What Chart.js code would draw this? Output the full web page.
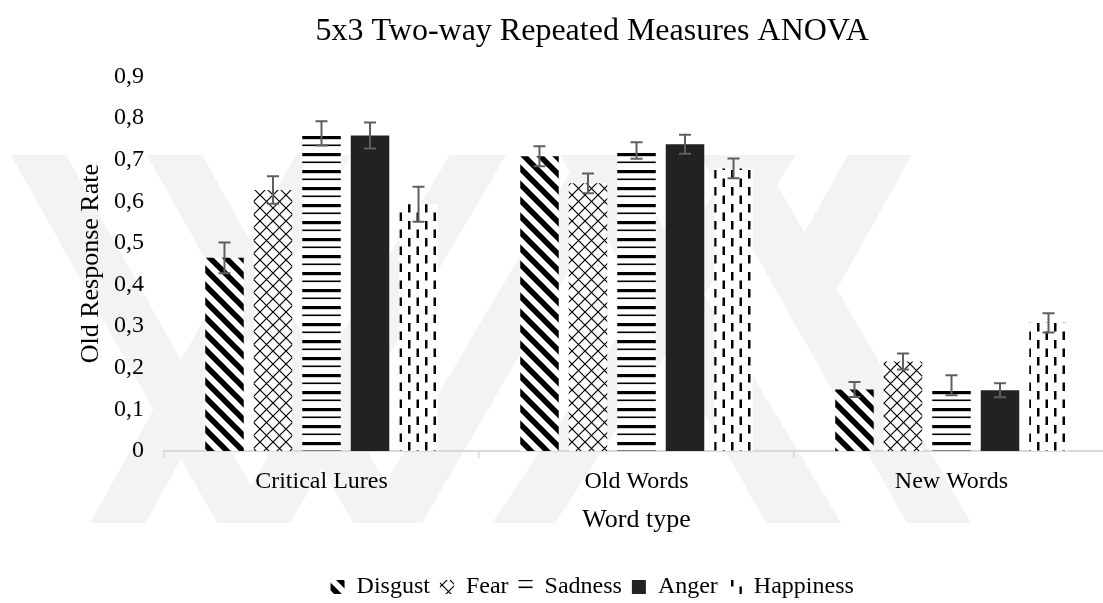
<!DOCTYPE html>
<html>
<head>
<meta charset="utf-8">
<script src="https://cdn.jsdelivr.net/npm/chart.js@4.4.1/dist/chart.umd.min.js"></script>
<style>
  html, body { margin: 0; padding: 0; background: #fff; overflow: hidden; }
  #wrap { width: 1176px; height: 630px; }
</style>
</head>
<body>
<div id="wrap"><canvas id="anovaChart" width="1176" height="630"></canvas></div>
<script>
const wordTypes = ["Critical Lures", "Old Words", "New Words"];
const emotions = ["Disgust", "Fear", "Sadness", "Anger", "Happiness"];

// mean old response rate per word type
const disgust = [0.464, 0.708, 0.148];
const fear = [0.627, 0.643, 0.215];
const sadness = [0.763, 0.722, 0.158];
const anger = [0.758, 0.737, 0.146];
const happiness = [0.593, 0.679, 0.308];

// standard errors
const disgustErr = [0.037, 0.024, 0.018];
const fearErr = [0.033, 0.024, 0.019];
const sadnessErr = [0.029, 0.02, 0.024];
const angerErr = [0.031, 0.023, 0.017];
const happinessErr = [0.042, 0.024, 0.023];

const yTicks = [0, 0.1, 0.2, 0.3, 0.4, 0.5, 0.6, 0.7, 0.8, 0.9];
const yTickLabels = ["0", "0,1", "0,2", "0,3", "0,4", "0,5", "0,6", "0,7", "0,8", "0,9"];

const serif = "'Liberation Serif', 'Times New Roman', serif";
Chart.defaults.font.family = serif;
Chart.defaults.color = "#000";

function makePattern(kind) {
  const c = document.createElement("canvas");
  const ctx = c.getContext("2d");
  if (kind === "diagonal") {
    c.width = 16; c.height = 16;
    ctx.fillStyle = "#fff";
    ctx.fillRect(0, 0, 16, 16);
    ctx.strokeStyle = "#000";
    ctx.lineWidth = 5.5;
    [-16, 0, 16].forEach((o) => {
      ctx.beginPath();
      ctx.moveTo(o - 2, -2);
      ctx.lineTo(o + 18, 18);
      ctx.stroke();
    });
  } else if (kind === "diamond") {
    c.width = 13; c.height = 13;
    ctx.fillStyle = "#fff";
    ctx.fillRect(0, 0, 13, 13);
    ctx.strokeStyle = "#000";
    ctx.lineWidth = 1.2;
    ctx.beginPath();
    ctx.moveTo(-1, -1); ctx.lineTo(14, 14);
    ctx.moveTo(14, -1); ctx.lineTo(-1, 14);
    ctx.stroke();
  } else if (kind === "hlines") {
    c.width = 8; c.height = 17;
    ctx.fillStyle = "#fff";
    ctx.fillRect(0, 0, 8, 17);
    ctx.fillStyle = "#000";
    ctx.fillRect(0, 0, 8, 3.2);
    ctx.fillRect(0, 8.5, 8, 1.6);
  } else if (kind === "dashes") {
    c.width = 17; c.height = 17;
    ctx.fillStyle = "#fff";
    ctx.fillRect(0, 0, 17, 17);
    ctx.fillStyle = "#000";
    ctx.fillRect(0, 0, 2.5, 8.5);
    ctx.fillRect(8.5, 8.5, 2.5, 8.5);
  }
  return c.getContext("2d").createPattern(c, "repeat");
}

// faint watermark bands behind the chart
const watermarkBands = [
  [[11, 155], [66, 155], [272, 523], [217, 523]],
  [[147, 155], [202, 155], [408, 523], [353, 523]],
  [[296, 155], [351, 155], [145, 523], [90, 523]],
  [[450, 155], [506, 155], [290, 523], [228, 523]],
  [[580, 155], [636, 155], [422, 523], [362, 523]],
  [[740, 155], [796, 155], [555, 523], [492, 523]],
  [[560, 155], [620, 155], [841, 523], [766, 523]],
  [[700, 155], [760, 155], [971, 523], [907, 523]],
  [[848, 155], [912, 155], [838, 287], [774, 287]],
];

const watermarkPlugin = {
  id: "watermark",
  beforeDraw(chart) {
    const { ctx } = chart;
    ctx.save();
    ctx.fillStyle = "#fff";
    ctx.fillRect(0, 0, chart.width, chart.height);
    ctx.fillStyle = "#f3f3f3";
    watermarkBands.forEach((pts) => {
      ctx.beginPath();
      pts.forEach(([x, y], i) => (i ? ctx.lineTo(x, y) : ctx.moveTo(x, y)));
      ctx.closePath();
      ctx.fill();
    });
    ctx.restore();
  },
};

const errorBarPlugin = {
  id: "errorBars",
  afterDatasetsDraw(chart) {
    const { ctx } = chart;
    const yScale = chart.scales.y;
    ctx.save();
    ctx.strokeStyle = "#5f5f5f";
    ctx.lineWidth = 2;
    chart.data.datasets.forEach((ds, i) => {
      const meta = chart.getDatasetMeta(i);
      meta.data.forEach((bar, j) => {
        const v = ds.data[j];
        const e = ds.errors[j];
        const top = yScale.getPixelForValue(v + e);
        const bottom = yScale.getPixelForValue(v - e);
        const x = bar.x;
        ctx.beginPath();
        ctx.moveTo(x, top); ctx.lineTo(x, bottom);
        ctx.moveTo(x - 6, top); ctx.lineTo(x + 6, top);
        ctx.moveTo(x - 6, bottom); ctx.lineTo(x + 6, bottom);
        ctx.stroke();
      });
    });
    ctx.restore();
  },
};

const seriesData = [disgust, fear, sadness, anger, happiness];
const seriesErr = [disgustErr, fearErr, sadnessErr, angerErr, happinessErr];
const fills = [
  makePattern("diagonal"),
  makePattern("diamond"),
  makePattern("hlines"),
  "#222222",
  makePattern("dashes"),
];

const datasets = emotions.map((label, i) => ({
  label,
  data: seriesData[i],
  errors: seriesErr[i],
  backgroundColor: fills[i],
  borderWidth: 0,
  categoryPercentage: 0.77,
  barPercentage: 0.794,
}));

const config = {
  type: "bar",
  data: { labels: wordTypes, datasets },
  options: {
    responsive: false,
    animation: false,
    devicePixelRatio: 1,
    layout: { padding: { left: 75.4, right: 67, top: 0, bottom: 21 } },
    plugins: {
      title: {
        display: true,
        text: "5x3 Two-way Repeated Measures ANOVA",
        font: { size: 32, weight: "normal", family: serif },
        color: "#000",
        padding: { top: 12, bottom: 26 },
      },
      legend: {
        position: "bottom",
        labels: {
          boxWidth: 14,
          boxHeight: 14,
          padding: 10,
          color: "#000",
          font: { size: 24, family: serif },
        },
      },
      tooltip: { enabled: false },
    },
    scales: {
      x: {
        grid: {
          display: true,
          drawOnChartArea: false,
          drawTicks: true,
          tickLength: 7,
          color: "#d9d9d9",
          lineWidth: 1.5,
        },
        border: { display: true, color: "#d9d9d9", width: 2 },
        ticks: { padding: 9, color: "#000", font: { size: 24, family: serif } },
        title: {
          display: true,
          text: "Word type",
          color: "#000",
          font: { size: 26, family: serif },
          padding: { top: 0, bottom: 29 },
        },
      },
      y: {
        min: 0,
        max: 0.9,
        afterBuildTicks: (axis) => {
          axis.ticks = yTicks.map((value) => ({ value }));
        },
        afterFit: (axis) => {
          axis.width = 88.6;
        },
        grid: { display: false, drawTicks: false },
        border: { display: false },
        ticks: {
          padding: 20,
          color: "#000",
          font: { size: 24, family: serif },
          callback: (value) => yTickLabels[yTicks.findIndex((t) => Math.abs(t - value) < 1e-6)],
        },
        title: {
          display: true,
          text: "Old Response Rate",
          color: "#000",
          font: { size: 26, family: serif },
          padding: { top: 0, bottom: 0 },
        },
      },
    },
  },
  plugins: [watermarkPlugin, errorBarPlugin],
};

const anovaChart = document.getElementById("anovaChart");

new Chart(anovaChart, config);
</script>
</body>
</html>
